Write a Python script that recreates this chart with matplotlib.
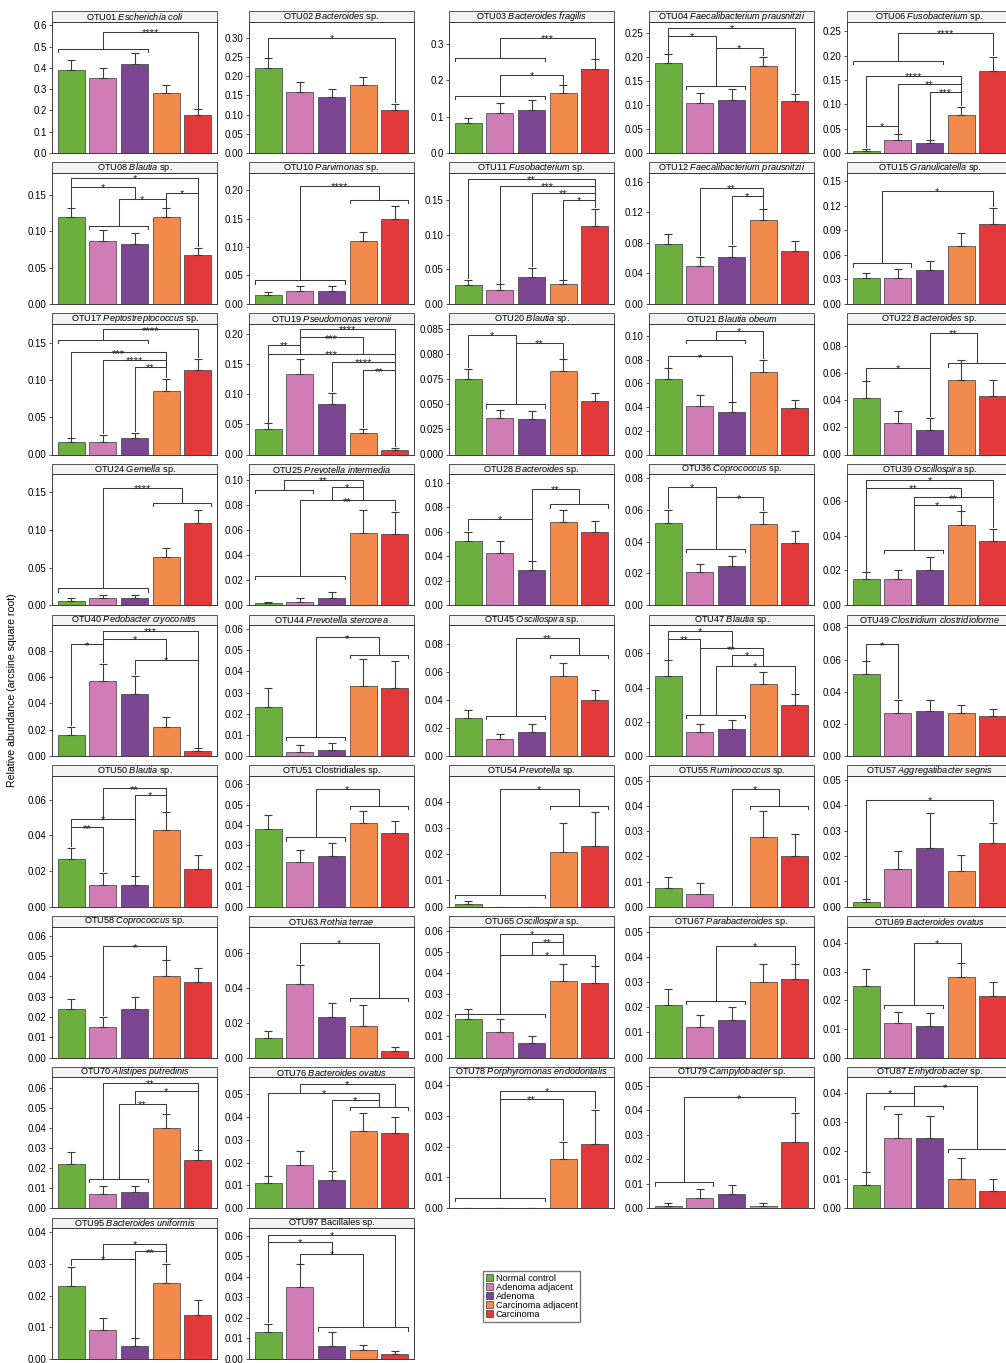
import numpy as np
import matplotlib
matplotlib.use("Agg")
import matplotlib.pyplot as plt
from matplotlib import font_manager
from matplotlib.patches import Rectangle, Patch

W, H = 1006, 1363

names = {f.name for f in font_manager.fontManager.ttflist}
base_font = 'Liberation Sans Narrow' if 'Liberation Sans Narrow' in names else 'Liberation Sans'
plt.rcParams['font.family'] = [base_font, 'DejaVu Sans']
plt.rcParams['mathtext.fontset'] = 'custom'
plt.rcParams['mathtext.rm'] = base_font
plt.rcParams['mathtext.it'] = base_font + ':italic'

groups = ['Normal control', 'Adenoma adjacent', 'Adenoma', 'Carcinoma adjacent', 'Carcinoma']
colors = ['#6bb03f', '#d07db5', '#7b4592', '#f28a4c', '#e4393a']

otu_ids = ['OTU01', 'OTU02', 'OTU03', 'OTU04', 'OTU06',
           'OTU08', 'OTU10', 'OTU11', 'OTU12', 'OTU15',
           'OTU17', 'OTU19', 'OTU20', 'OTU21', 'OTU22',
           'OTU24', 'OTU25', 'OTU28', 'OTU36', 'OTU39',
           'OTU40', 'OTU44', 'OTU45', 'OTU47', 'OTU49',
           'OTU50', 'OTU51', 'OTU54', 'OTU55', 'OTU57',
           'OTU58', 'OTU63', 'OTU65', 'OTU67', 'OTU69',
           'OTU70', 'OTU76', 'OTU78', 'OTU79', 'OTU87',
           'OTU95', 'OTU97']

taxa = ['Escherichia coli', 'Bacteroides sp.', 'Bacteroides fragilis', 'Faecalibacterium prausnitzii', 'Fusobacterium sp.',
        'Blautia sp.', 'Parvimonas sp.', 'Fusobacterium sp.', 'Faecalibacterium prausnitzii', 'Granulicatella sp.',
        'Peptostreptococcus sp.', 'Pseudomonas veronii', 'Blautia sp.', 'Blautia obeum', 'Bacteroides sp.',
        'Gemella sp.', 'Prevotella intermedia', 'Bacteroides sp.', 'Coprococcus sp.', 'Oscillospira sp.',
        'Pedobacter cryoconitis', 'Prevotella stercorea', 'Oscillospira sp.', 'Blautia sp.', 'Clostridium clostridioforme',
        'Blautia sp.', 'Clostridiales sp.', 'Prevotella sp.', 'Ruminococcus sp.', 'Aggregatibacter segnis',
        'Coprococcus sp.', 'Rothia terrae', 'Oscillospira sp.', 'Parabacteroides sp.', 'Bacteroides ovatus',
        'Alistipes putredinis', 'Bacteroides ovatus', 'Porphyromonas endodontalis', 'Campylobacter sp.', 'Enhydrobacter sp.',
        'Bacteroides uniformis', 'Bacillales sp.']
plain_words = {'sp.', 'Clostridiales', 'Bacillales'}

means = [
    [0.39, 0.355, 0.42, 0.28, 0.178], [0.222, 0.16, 0.145, 0.178, 0.113], [0.082, 0.11, 0.118, 0.165, 0.23],
    [0.186, 0.103, 0.11, 0.18, 0.108], [0.005, 0.026, 0.020, 0.079, 0.168],
    [0.12, 0.087, 0.083, 0.12, 0.067], [0.015, 0.022, 0.023, 0.11, 0.15], [0.027, 0.02, 0.039, 0.029, 0.113],
    [0.079, 0.05, 0.061, 0.11, 0.069], [0.031, 0.032, 0.041, 0.07, 0.097],
    [0.017, 0.017, 0.022, 0.086, 0.114], [0.043, 0.134, 0.084, 0.036, 0.008], [0.075, 0.0363, 0.035, 0.083, 0.053],
    [0.064, 0.041, 0.036, 0.07, 0.039], [0.042, 0.023, 0.018, 0.055, 0.043],
    [0.006, 0.01, 0.01, 0.064, 0.109], [0.002, 0.003, 0.006, 0.058, 0.057], [0.052, 0.043, 0.029, 0.068, 0.06],
    [0.052, 0.021, 0.025, 0.051, 0.039], [0.015, 0.015, 0.020, 0.046, 0.037],
    [0.016, 0.057, 0.047, 0.022, 0.004], [0.023, 0.002, 0.003, 0.033, 0.032], [0.027, 0.012, 0.017, 0.057, 0.04],
    [0.047, 0.014, 0.016, 0.042, 0.03], [0.051, 0.027, 0.028, 0.027, 0.025],
    [0.027, 0.012, 0.012, 0.043, 0.021], [0.038, 0.022, 0.025, 0.041, 0.036], [0.001, 0.0, 0.0, 0.021, 0.023],
    [0.0075, 0.005, 0.0, 0.0275, 0.02], [0.002, 0.015, 0.023, 0.014, 0.025],
    [0.024, 0.015, 0.024, 0.04, 0.037], [0.011, 0.042, 0.023, 0.018, 0.004], [0.018, 0.012, 0.007, 0.036, 0.035],
    [0.021, 0.012, 0.015, 0.03, 0.031], [0.025, 0.012, 0.011, 0.028, 0.0215],
    [0.022, 0.007, 0.008, 0.04, 0.024], [0.011, 0.019, 0.0125, 0.034, 0.033], [0.0, 0.0, 0.0, 0.016, 0.021],
    [0.001, 0.004, 0.006, 0.001, 0.027], [0.008, 0.0245, 0.0245, 0.010, 0.006],
    [0.023, 0.009, 0.004, 0.024, 0.014], [0.013, 0.035, 0.0065, 0.0045, 0.0025],
]

# upper end of each error bar
err_hi = [
    [0.435, 0.40, 0.47, 0.32, 0.205], [0.247, 0.185, 0.167, 0.199, 0.128], [0.097, 0.137, 0.146, 0.186, 0.258],
    [0.205, 0.124, 0.133, 0.20, 0.123], [0.009, 0.038, 0.026, 0.095, 0.197],
    [0.132, 0.102, 0.098, 0.132, 0.077], [0.02, 0.032, 0.032, 0.127, 0.172], [0.035, 0.028, 0.052, 0.034, 0.138],
    [0.092, 0.062, 0.076, 0.124, 0.082], [0.038, 0.043, 0.052, 0.087, 0.117],
    [0.022, 0.027, 0.029, 0.102, 0.129], [0.052, 0.159, 0.103, 0.043, 0.011], [0.0857, 0.0447, 0.0433, 0.095, 0.0613],
    [0.073, 0.05, 0.044, 0.08, 0.046], [0.054, 0.032, 0.027, 0.07, 0.055],
    [0.009, 0.014, 0.014, 0.076, 0.127], [0.003, 0.006, 0.011, 0.076, 0.075], [0.06, 0.052, 0.036, 0.078, 0.069],
    [0.06, 0.026, 0.031, 0.059, 0.047], [0.019, 0.02, 0.028, 0.054, 0.044],
    [0.022, 0.07, 0.061, 0.03, 0.006], [0.032, 0.005, 0.006, 0.046, 0.045], [0.033, 0.016, 0.023, 0.067, 0.047],
    [0.056, 0.019, 0.021, 0.049, 0.036], [0.059, 0.035, 0.035, 0.032, 0.029],
    [0.033, 0.019, 0.017, 0.053, 0.029], [0.045, 0.028, 0.031, 0.047, 0.042], [0.002, 0.0, 0.0, 0.032, 0.036],
    [0.012, 0.0095, 0.0, 0.038, 0.029], [0.003, 0.022, 0.037, 0.0205, 0.033],
    [0.029, 0.02, 0.03, 0.048, 0.044], [0.015, 0.053, 0.031, 0.03, 0.006], [0.023, 0.018, 0.01, 0.044, 0.043],
    [0.027, 0.017, 0.02, 0.037, 0.037], [0.031, 0.016, 0.0155, 0.033, 0.0265],
    [0.028, 0.011, 0.011, 0.047, 0.029], [0.014, 0.025, 0.0165, 0.0415, 0.04], [0.0, 0.0, 0.0, 0.0215, 0.032],
    [0.002, 0.008, 0.0095, 0.002, 0.039], [0.0125, 0.0325, 0.032, 0.0175, 0.010],
    [0.029, 0.013, 0.0065, 0.03, 0.0185], [0.017, 0.046, 0.013, 0.007, 0.004],
]

y_top = [0.616, 0.341, 0.36, 0.272, 0.269,
         0.181, 0.231, 0.19, 0.172, 0.160,
         0.177, 0.218, 0.1307, 0.1107, 0.0968,
         0.174, 0.105, 0.1068, 0.0825, 0.0753,
         0.0995, 0.0619, 0.0939, 0.0766, 0.0815,
         0.0735, 0.0641, 0.0499, 0.052, 0.0516,
         0.0646, 0.0749, 0.0619, 0.052, 0.0458,
         0.0655, 0.0573, 0.0425, 0.0534, 0.0454,
         0.0413, 0.0637]

y_step = [0.1, 0.05, 0.1, 0.05, 0.05,
          0.05, 0.05, 0.05, 0.04, 0.03,
          0.05, 0.05, 0.025, 0.02, 0.02,
          0.05, 0.02, 0.02, 0.02, 0.02,
          0.02, 0.01, 0.02, 0.02, 0.02,
          0.02, 0.01, 0.01, 0.01, 0.01,
          0.01, 0.02, 0.01, 0.01, 0.01,
          0.01, 0.01, 0.01, 0.01, 0.01,
          0.01, 0.01]

tick_text = {'OTU20': ['0.000', '0.025', '0.050', '0.075', '0.080', '0.085']}

# (left, right, height, label); an int is one bar, (a, b, h) is a group of bars a..b joined at height h
brackets = [
    [((0, 2, 0.49), 4, 0.57, '****')],
    [(0, 4, 0.30, '*')],
    [((0, 2, 0.158), 3, 0.215, '*'), ((0, 2, 0.262), 4, 0.317, '***')],
    [(0, 4, 0.26, '*'), (0, (1, 2, 0.14), 0.243, '*'), ((1, 2, 0.14), 3, 0.218, '*')],
    [((0, 2, 0.1885), 4, 0.246, '****'), (0, 3, 0.158, '****'), (1, 3, 0.142, '**'), (2, 3, 0.126, '***'), (0, 1, 0.055, '*')],
    [(0, 4, 0.174, '*'), (0, 2, 0.1616, '*'), ((1, 2, 0.1076), 3, 0.1445, '*'), (3, 4, 0.153, '*')],
    [((0, 2, 0.041), (3, 4, 0.183), 0.208, '****')],
    [(0, 4, 0.181, '**'), (1, 4, 0.171, '***'), (2, 4, 0.161, '**'), (3, 4, 0.151, '*')],
    [(1, 3, 0.152, '**'), (2, 3, 0.1415, '*')],
    [((0, 1, 0.0493), 4, 0.138, '*')],
    [((0, 2, 0.1545), 4, 0.169, '****'), (0, 3, 0.138, '***'), (1, 3, 0.1275, '****'), (2, 3, 0.118, '**')],
    [(1, 4, 0.209, '****'), (1, 3, 0.195, '***'), (0, 1, 0.182, '**'), (0, 4, 0.168, '***'), (2, 4, 0.154, '****'), (3, 4, 0.14, '**')],
    [(0, (1, 2, 0.05), 0.119, '*'), ((1, 2, 0.05), 3, 0.1117, '**')],
    [((1, 2, 0.0966), 3, 0.1045, '*'), (0, 2, 0.083, '*')],
    [(2, (3, 4, 0.0674), 0.090, '**'), (0, 2, 0.064, '*')],
    [((0, 2, 0.0226), (3, 4, 0.136), 0.156, '****')],
    [((0, 1, 0.0925), 3, 0.1005, '**'), (2, 3, 0.0946, '*'), ((0, 2, 0.0236), 4, 0.084, '**')],
    [(2, (3, 4, 0.0823), 0.0946, '**'), (0, 2, 0.0707, '*')],
    [(0, (1, 2, 0.0353), 0.0745, '*'), ((1, 2, 0.0353), 3, 0.068, '*')],
    [(0, 4, 0.0719, '*'), (0, 3, 0.0673, '**'), ((1, 2, 0.032), 4, 0.062, '**'), ((1, 2, 0.032), 3, 0.0577, '*')],
    [(1, 4, 0.095, '***'), (1, 3, 0.0889, '*'), (0, 1, 0.0848, '*'), (2, 4, 0.0729, '*')],
    [((1, 2, 0.0091), (3, 4, 0.0477), 0.056, '*')],
    [((1, 2, 0.0289), (3, 4, 0.0723), 0.0848, '**')],
    [(0, 2, 0.073, '*'), (0, 1, 0.0684, '**'), (1, 3, 0.0629, '**'), (2, 3, 0.059, '*'), ((1, 2, 0.024), 4, 0.0528, '*')],
    [(0, 1, 0.0694, '*')],
    [(1, 3, 0.0664, '**'), (2, 3, 0.0628, '*'), (0, 2, 0.0492, '*'), (0, 1, 0.0445, '**')],
    [((1, 2, 0.0339), (3, 4, 0.0494), 0.0576, '*')],
    [((0, 2, 0.0044), (3, 4, 0.0385), 0.0448, '*')],
    [(2, (3, 4, 0.040), 0.0467, '*')],
    [(0, 4, 0.0421, '*')],
    [(1, 3, 0.0548, '*')],
    [(1, (3, 4, 0.0339), 0.0657, '*')],
    [(1, 3, 0.0584, '*'), (2, 3, 0.0548, '**'), ((0, 2, 0.0206), 4, 0.0485, '*')],
    [((1, 2, 0.0226), 4, 0.0443, '*')],
    [((1, 2, 0.0184), 3, 0.0402, '*')],
    [(1, 4, 0.0628, '**'), (2, 4, 0.0588, '*'), ((1, 2, 0.0147), 3, 0.052, '**')],
    [(1, 4, 0.0545, '*'), (0, (3, 4, 0.0442), 0.0504, '*'), (2, (3, 4, 0.0442), 0.0474, '*')],
    [((0, 2, 0.0034), 4, 0.038, '*'), ((0, 2, 0.0034), 3, 0.0355, '**')],
    [((0, 1, 0.0106), 4, 0.0452, '*')],
    [(0, (1, 2, 0.0354), 0.040, '*'), ((1, 2, 0.0354), (3, 4, 0.0206), 0.0422, '*')],
    [(1, 3, 0.0362, '*'), (2, 3, 0.0339, '**'), (0, 2, 0.0316, '*')],
    [(0, 4, 0.0605, '*'), (0, 2, 0.0569, '*'), (1, (2, 4, 0.0154), 0.051, '*')],
]

# layout in pixels
col_left = [52, 249, 449, 649, 847]
panel_w = 165
panel_h = 131
strip_h = 10.5
row_bottom0 = 153
row_pitch = 150.75

line_col = '#3a3a3a'
HW = 0.42


def make_title(otu, taxon):
    parts = []
    for w in taxon.split():
        if w in plain_words:
            parts.append(w)
        else:
            parts.append(r'$\mathit{' + w + '}$')
    return otu + ' ' + ' '.join(parts)


def xpos(spec):
    if isinstance(spec, tuple):
        return (spec[0] + spec[1]) / 2
    return spec


def draw_brackets(ax, blist, hi, top):
    pad = 0.012 * top
    tip = 0.025 * top
    segs = []
    grp = set()
    for left, right, y, lab in blist:
        xa, xb = sorted([xpos(left), xpos(right)])
        segs.append((xa, xb, y))
        for s in (left, right):
            if isinstance(s, tuple):
                segs.append((s[0] - HW, s[1] + HW, s[2]))
                grp.add(s)

    def floor(spec, y):
        x = xpos(spec)
        cands = [spec[2]] if isinstance(spec, tuple) else [hi[spec] + pad]
        for x0, x1, yy in segs:
            if yy < y - 1e-9 and x0 - 0.05 <= x <= x1 + 0.05:
                cands.append(yy)
        return max(cands)

    for a, b, g in grp:
        ax.plot([a - HW, a - HW, b + HW, b + HW], [g - tip, g, g, g - tip],
                color=line_col, lw=0.75, clip_on=False)
    for left, right, y, lab in blist:
        ends = sorted([left, right], key=xpos)
        xl, xr = xpos(ends[0]), xpos(ends[1])
        ax.plot([xl, xl, xr, xr], [floor(ends[0], y), y, y, floor(ends[1], y)],
                color=line_col, lw=0.75, clip_on=False)
        ax.annotate(lab, ((xl + xr) / 2, y), xytext=(0, -3.1), textcoords='offset points',
                    ha='center', va='baseline', fontsize=8, color='#222222')


fig = plt.figure(figsize=(W / 100, H / 100), dpi=100)
x = np.arange(5)

for k, otu in enumerate(otu_ids):
    r, c = divmod(k, 5)
    bottom_px = row_bottom0 + row_pitch * r
    ax = fig.add_axes([col_left[c] / W, 1 - bottom_px / H, panel_w / W, panel_h / H])
    m = np.array(means[k])
    hi = np.array(err_hi[k])
    top = y_top[k]

    ax.bar(x, m, width=0.85, color=colors, edgecolor=line_col, linewidth=0.5, zorder=2)
    ax.errorbar(x, m, yerr=[np.zeros(5), hi - m], fmt='none', ecolor=line_col,
                elinewidth=0.8, capsize=3.0, capthick=0.8, zorder=3)
    draw_brackets(ax, brackets[k], hi, top)

    ax.set_xlim(-0.6, 4.6)
    ax.set_ylim(0, top)
    ticks = np.arange(0, top + 1e-9, y_step[k])
    ax.set_yticks(ticks)
    if otu in tick_text:
        ax.set_yticklabels(tick_text[otu])
    else:
        dec = 1 if y_step[k] >= 0.1 else 2
        ax.set_yticklabels([f'{t:.{dec}f}' for t in ticks])
    ax.set_xticks([])
    ax.tick_params(axis='y', length=2.2, width=0.6, labelsize=7, pad=1.5, color=line_col)
    for sp in ax.spines.values():
        sp.set_linewidth(0.7)
        sp.set_color(line_col)

    sh = strip_h / panel_h
    ax.add_patch(Rectangle((0, 1), 1, sh, transform=ax.transAxes, clip_on=False,
                           facecolor='#f3f3f3', edgecolor=line_col, linewidth=0.6))
    ax.text(0.5, 1 + sh / 2, make_title(otu, taxa[k]), transform=ax.transAxes,
            ha='center', va='center', fontsize=6.6)

fig.text(12 / W, 1 - 690 / H, 'Relative abundance (arcsine square root)', rotation=90,
         ha='center', va='center', fontsize=7.6)

handles = [Patch(facecolor=col, edgecolor=line_col, linewidth=0.5) for col in colors]
fig.legend(handles, groups, loc='upper left', bbox_to_anchor=(483 / W, 1 - 1271 / H),
           frameon=True, fancybox=False, edgecolor='#555555', fontsize=6.6,
           handlelength=0.8, handleheight=0.75, handletextpad=0.3, labelspacing=0.0,
           borderpad=0.3, borderaxespad=0)

fig.savefig('out.png', dpi=100)
